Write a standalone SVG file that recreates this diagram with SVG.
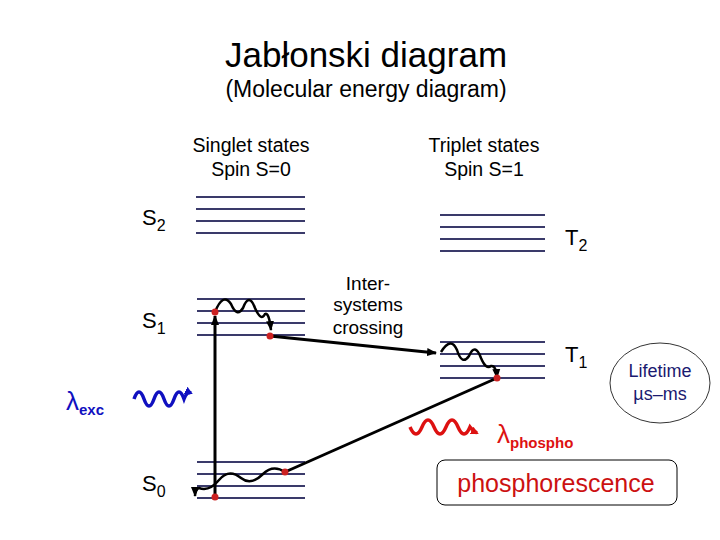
<svg xmlns="http://www.w3.org/2000/svg" width="720" height="540" viewBox="0 0 720 540">
<style>
text{font-family:"Liberation Sans",Arial,sans-serif}
.lv{stroke:#3a3a6a;stroke-width:2}
.k{fill:none;stroke:#000;stroke-width:3}
.w{fill:none;stroke:#000;stroke-width:2.5}
.d{fill:#cc2222}
</style>
<defs>
<marker id="ah" markerWidth="10" markerHeight="10" refX="9" refY="5" orient="auto" markerUnits="userSpaceOnUse"><path d="M0,1 L10,5 L0,9 z" fill="#000"/></marker>
<marker id="ab" markerWidth="8" markerHeight="8" refX="6" refY="4" orient="auto" markerUnits="userSpaceOnUse"><path d="M0,0 L8,4 L0,8 z" fill="#1010c0"/></marker>
<marker id="ar" markerWidth="8" markerHeight="8" refX="6" refY="4" orient="auto" markerUnits="userSpaceOnUse"><path d="M0,0 L8,4 L0,8 z" fill="#dd1111"/></marker>
</defs>
<text x="366" y="67" font-size="35" text-anchor="middle">Jabłonski diagram</text>
<text x="366" y="97" font-size="23" text-anchor="middle">(Molecular energy diagram)</text>
<text x="251" y="152" font-size="19.5" text-anchor="middle">Singlet states</text>
<text x="251" y="176" font-size="19.5" text-anchor="middle">Spin S=0</text>
<text x="484" y="152" font-size="19.5" text-anchor="middle">Triplet states</text>
<text x="484" y="176" font-size="19.5" text-anchor="middle">Spin S=1</text>
<g id="S2"><path class="lv" d="M196,197H305M196,209H305M196,221H305M196,233H305"/><text x="142" y="225" font-size="22">S<tspan font-size="16" dy="6">2</tspan></text></g>
<g id="T2"><path class="lv" d="M440,215H545M440,227H545M440,239H545M440,251H545"/><text x="565" y="245" font-size="22">T<tspan font-size="16" dy="6">2</tspan></text></g>
<g id="S1"><path class="lv" d="M197,299H305M197,311H305M197,323H305M197,335H305"/><text x="142" y="328" font-size="22">S<tspan font-size="16" dy="6">1</tspan></text></g>
<g id="T1"><path class="lv" d="M440,342H545M440,354H545M440,366H545M440,378H545"/><text x="565" y="362" font-size="22">T<tspan font-size="16" dy="6">1</tspan></text></g>
<g id="S0"><path class="lv" d="M197,462H305M197,474H305M197,486H305M197,498H305"/><text x="142" y="491" font-size="22">S<tspan font-size="16" dy="6">0</tspan></text></g>
<g id="isc"><text x="368" y="290" font-size="19" text-anchor="middle">Inter-</text><text x="368" y="311" font-size="19" text-anchor="middle">systems</text><text x="368" y="334" font-size="19" text-anchor="middle">crossing</text></g>
<g id="lifetime"><ellipse cx="660" cy="383" rx="50" ry="40" fill="none" stroke="#000" stroke-width="0.8"/><text x="660" y="377" font-size="18" fill="#1a1a70" text-anchor="middle">Lifetime</text><text x="660" y="400" font-size="18" fill="#1a1a70" text-anchor="middle">µs–ms</text></g>
<g id="phos"><rect x="437" y="460" width="240" height="45" rx="8" fill="none" stroke="#000" stroke-width="1"/><text x="556" y="492" font-size="25" fill="#cc1111" text-anchor="middle">phosphorescence</text></g>
<g id="lexc"><text x="66" y="410" font-size="26" fill="#1010c0" font-family="'DejaVu Serif',serif">λ<tspan font-size="15" font-family="'Liberation Sans',sans-serif" font-weight="bold" dy="5">exc</tspan></text>
<path d="M134,399 q5,-14 10,0 t10,0 t10,0 t10,0 t10,0 q3,-8 7,-6" fill="none" stroke="#1010c0" stroke-width="3.5" marker-end="url(#ab)"/></g>
<g id="lphos"><text x="497" y="443" font-size="26" fill="#dd1111" font-family="'DejaVu Serif',serif">λ<tspan font-size="15" font-family="'Liberation Sans',sans-serif" font-weight="bold" dy="5">phospho</tspan></text>
<path d="M410,427 q6,14 12,0 t12,0 t12,0 t12,0 t12,0 q3,4 7,6" fill="none" stroke="#dd1111" stroke-width="3.5" marker-end="url(#ar)"/></g>
<g id="connectors">
<line class="k" x1="215" y1="497" x2="215" y2="316" marker-end="url(#ah)"/>
<path class="w" d="M215,312 q8,-20 16,-8 q6,14 12,4 q6,-16 12,0 q6,14 10,6 q4,-2 6,16" marker-end="url(#ah)"/>
<line class="k" x1="270" y1="336" x2="436" y2="353" marker-end="url(#ah)"/>
<path class="w" d="M441,352 q10,-16 16,-2 q5,16 12,6 q6,-14 12,2 q5,12 10,8 q5,-1 6,12" marker-end="url(#ah)"/>
<line class="k" x1="497" y1="378" x2="285" y2="472"/>
<path class="w" d="M285,472 q-12,-8 -22,2 q-12,12 -22,4 q-12,-10 -22,2 q-10,12 -20,8 q-4,2 -4,8" marker-end="url(#ah)"/>
<circle class="d" cx="215" cy="312" r="3.5"/><circle class="d" cx="270" cy="336" r="3.5"/>
<circle class="d" cx="497" cy="378" r="3.5"/><circle class="d" cx="285" cy="472" r="3.5"/><circle class="d" cx="215" cy="497" r="3.5"/>
</g>
</svg>
